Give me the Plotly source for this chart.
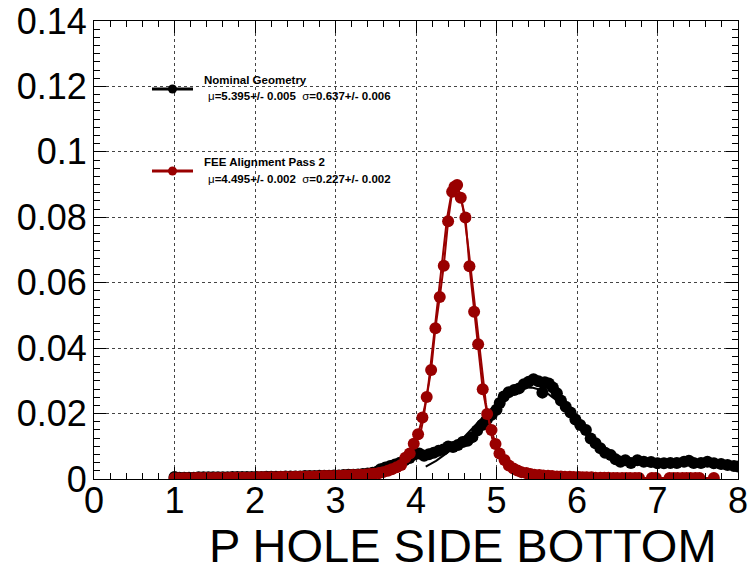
import numpy as np
import plotly.graph_objects as go

# ---- Nominal Geometry: residual distribution ----
nom_x = [1.00, 1.06, 1.12, 1.18, 1.24, 1.30, 1.36, 1.42, 1.48, 1.54, 1.60, 1.66, 1.72, 1.78,
         1.84, 1.90, 1.96, 2.02, 2.08, 2.14, 2.20, 2.26, 2.32, 2.38, 2.44, 2.50, 2.56, 2.62,
         2.68, 2.74, 2.80, 2.86, 2.92, 2.98, 3.04, 3.10, 3.16, 3.22, 3.28, 3.34, 3.40, 3.46,
         3.52, 3.56, 3.62, 3.68, 3.74, 3.80, 3.86, 3.92, 3.98, 4.04, 4.10, 4.16, 4.22, 4.28,
         4.34, 4.40, 4.46, 4.52, 4.58, 4.64, 4.70, 4.76, 4.82, 4.88, 4.94, 5.00, 5.04, 5.09,
         5.15, 5.22, 5.28, 5.34, 5.40, 5.46, 5.52, 5.57, 5.60, 5.65, 5.70, 5.75, 5.80, 5.86,
         5.92, 5.98, 6.04, 6.11, 6.17, 6.23, 6.29, 6.35, 6.42, 6.48, 6.54, 6.60, 6.67, 6.75,
         6.83, 6.92, 7.00, 7.08, 7.16, 7.24, 7.33, 7.39, 7.45, 7.54, 7.62, 7.70, 7.79, 7.87,
         7.95, 8.00]
nom_y = [0.0006, 0.0004, 0.0004, 0.0004, 0.0004, 0.0005, 0.0005, 0.0005, 0.0005, 0.0005,
         0.0005, 0.0005, 0.0006, 0.0006, 0.0006, 0.0006, 0.0006, 0.0006, 0.0006, 0.0007,
         0.0007, 0.0007, 0.0007, 0.0008, 0.0008, 0.0008, 0.0008, 0.0009, 0.0009, 0.0009,
         0.0010, 0.0010, 0.0010, 0.0011, 0.0011, 0.0012, 0.0013, 0.0013, 0.0014, 0.0015,
         0.0017, 0.0019, 0.0023, 0.0030, 0.0035, 0.0040, 0.0044, 0.0050, 0.0057, 0.0064,
         0.0075, 0.0078, 0.0071, 0.0076, 0.0080, 0.0086, 0.0090, 0.0099, 0.0098, 0.0104,
         0.0113, 0.0117, 0.0128, 0.0148, 0.0165, 0.0182, 0.0196, 0.0212, 0.0232, 0.0252,
         0.0265, 0.0272, 0.0277, 0.0290, 0.0297, 0.0305, 0.0299, 0.0264, 0.0296, 0.0292,
         0.0280, 0.0262, 0.0240, 0.0221, 0.0203, 0.0182, 0.0165, 0.0150, 0.0124, 0.0109,
         0.0094, 0.0080, 0.0073, 0.0060, 0.0053, 0.0057, 0.0049, 0.0057, 0.0053, 0.0052,
         0.0048, 0.0048, 0.0049, 0.0049, 0.0053, 0.0056, 0.0049, 0.0049, 0.0053, 0.0048,
         0.0046, 0.0043, 0.0040, 0.0038]

# ---- FEE Alignment Pass 2: residual distribution ----
fee_x = [1.00, 1.05, 1.11, 1.16, 1.22, 1.27, 1.32, 1.38, 1.43, 1.49, 1.54, 1.59, 1.65, 1.70,
         1.76, 1.81, 1.86, 1.92, 1.97, 2.03, 2.08, 2.13, 2.19, 2.24, 2.30, 2.35, 2.40, 2.46,
         2.51, 2.57, 2.62, 2.67, 2.73, 2.78, 2.84, 2.89, 2.94, 3.00, 3.05, 3.11, 3.16, 3.21,
         3.27, 3.32, 3.38, 3.43, 3.48, 3.54, 3.59, 3.65, 3.70, 3.76,
         3.815, 3.868, 3.922, 3.972, 4.026, 4.080, 4.133, 4.188, 4.241, 4.295, 4.345, 4.399,
         4.449, 4.478, 4.511, 4.556, 4.614, 4.664, 4.722, 4.772, 4.829, 4.884, 4.938, 4.988,
         5.037, 5.100, 5.153,
         5.21, 5.26, 5.31, 5.37, 5.42, 5.47, 5.53, 5.58, 5.64, 5.69, 5.75, 5.80, 5.85, 5.91,
         5.96, 6.02, 6.07, 6.12, 6.18, 6.23, 6.29, 6.34, 6.39, 6.45, 6.50, 6.56, 6.61, 6.66,
         6.72, 6.77, 6.93, 6.98, 7.15, 7.20, 7.25, 7.31, 7.36, 7.41, 7.47, 7.52, 7.70]
fee_y = [0.0002, 0.0002, 0.0002, 0.0002, 0.0002, 0.0003, 0.0003, 0.0003, 0.0003, 0.0003,
         0.0003, 0.0003, 0.0003, 0.0004, 0.0004, 0.0004, 0.0004, 0.0004, 0.0004, 0.0005,
         0.0005, 0.0005, 0.0005, 0.0005, 0.0006, 0.0006, 0.0006, 0.0006, 0.0007, 0.0007,
         0.0007, 0.0008, 0.0008, 0.0008, 0.0009, 0.0009, 0.0009, 0.0010, 0.0010, 0.0011,
         0.0011, 0.0012, 0.0012, 0.0013, 0.0014, 0.0015, 0.0016, 0.0018, 0.0021, 0.0025,
         0.0030, 0.0036,
         0.0043, 0.0065, 0.0078, 0.0108, 0.0137, 0.0188, 0.0251, 0.0333, 0.0461, 0.0556,
         0.0652, 0.0788, 0.0878, 0.0893, 0.0899, 0.0860, 0.0799, 0.0650, 0.0511, 0.0412,
         0.0274, 0.0199, 0.0150, 0.0107, 0.0078, 0.0058, 0.0041,
         0.0032, 0.0026, 0.0021, 0.0018, 0.0015, 0.0013, 0.0012, 0.0011, 0.0010, 0.0009,
         0.0008, 0.0008, 0.0007, 0.0007, 0.0006, 0.0006, 0.0005, 0.0005, 0.0005, 0.0004,
         0.0004, 0.0004, 0.0004, 0.0003, 0.0003, 0.0003, 0.0003, 0.0003, 0.0003, 0.0003,
         0.0003, 0.0003, 0.0003, 0.0003, 0.0003, 0.0003, 0.0003, 0.0003, 0.0003, 0.0003,
         0.0003]

# Gaussian fit results (mean, sigma, errors, peak height)
nom_fit = dict(mu=5.395, mu_err=0.005, sigma=0.637, sigma_err=0.006, amp=0.0280)
fee_fit = dict(mu=4.495, mu_err=0.002, sigma=0.227, sigma_err=0.002, amp=0.0895)

series_names = ["Nominal Geometry", "FEE Alignment Pass 2"]
series_colors = ["#000000", "#990000"]

x_title = "P HOLE SIDE BOTTOM"


def gauss_curve(fit, n=200):
    """Fitted Gaussian drawn over mean +/- 2 sigma."""
    xs = np.linspace(fit["mu"] - 2 * fit["sigma"], fit["mu"] + 2 * fit["sigma"], n)
    ys = fit["amp"] * np.exp(-0.5 * ((xs - fit["mu"]) / fit["sigma"]) ** 2)
    return xs, ys


fig = go.Figure()

for (xs, ys, fit, name, col) in [
    (nom_x, nom_y, nom_fit, series_names[0], series_colors[0]),
    (fee_x, fee_y, fee_fit, series_names[1], series_colors[1]),
]:
    fig.add_trace(go.Scatter(
        x=xs, y=ys, mode="lines+markers", name=name,
        line=dict(color=col, width=2),
        marker=dict(color=col, size=12, symbol="circle", line=dict(width=0)),
        showlegend=False, cliponaxis=True,
    ))
    fx, fy = gauss_curve(fit)
    fig.add_trace(go.Scatter(
        x=fx, y=fy, mode="lines", line=dict(color=col, width=2),
        showlegend=False, hoverinfo="skip",
    ))

# ---- frame geometry (pixels) ----
W, H = 749, 571
L, R, T, B = 94, 738, 21, 479
PW, PH = R - L, B - T


def px(xp):
    return (xp - L) / PW


def py(yp):
    return (B - yp) / PH


shapes = []
annotations = []

# hand-placed legend entries
legend_rows = [
    (series_names[0], series_colors[0], nom_fit, 89, 80, 96.5),
    (series_names[1], series_colors[1], fee_fit, 171, 162, 178.5),
]
for name, col, fit, ly, t1, t2 in legend_rows:
    shapes.append(dict(type="line", xref="paper", yref="paper",
                       x0=px(152), x1=px(193), y0=py(ly), y1=py(ly),
                       line=dict(color=col, width=3)))
    r = 4.5
    shapes.append(dict(type="circle", xref="paper", yref="paper",
                       x0=px(172.5 - r), x1=px(172.5 + r), y0=py(ly + r), y1=py(ly - r),
                       fillcolor=col, line=dict(color=col, width=0)))
    annotations.append(dict(
        text="<b>%s</b>" % name, xref="paper", yref="paper",
        x=px(202), y=py(t1), xanchor="left", yanchor="middle", showarrow=False,
        font=dict(family="Liberation Sans, Arial, sans-serif", size=11.5, color="black")))
    stats = ("μ<b>=%.3f+/- %.3f</b>  σ<b>=%.3f+/- %.3f</b>"
             % (fit["mu"], fit["mu_err"], fit["sigma"], fit["sigma_err"]))
    annotations.append(dict(
        text=stats, xref="paper", yref="paper",
        x=px(206), y=py(t2), xanchor="left", yanchor="middle", showarrow=False,
        font=dict(family="Liberation Sans, Arial, sans-serif", size=11.5, color="black")))

# x-axis title, right-aligned to the end of the axis
annotations.append(dict(
    text=x_title, xref="paper", yref="paper", x=px(719), y=py(545),
    xanchor="right", yanchor="middle", showarrow=False,
    font=dict(family="Liberation Sans, Arial, sans-serif", size=47, color="black")))

tick_font = dict(family="Liberation Sans, Arial, sans-serif", size=36, color="black")
common_axis = dict(
    showline=True, linecolor="black", linewidth=1, mirror="allticks",
    ticks="inside", ticklen=12, tickcolor="black", tickwidth=1,
    showgrid=True, gridcolor="#444444", griddash="dot", gridwidth=1,
    zeroline=False, tickfont=tick_font, automargin=False,
)

fig.update_layout(
    width=W, height=H,
    margin=dict(l=L, r=W - R, t=T, b=H - B, autoexpand=False),
    paper_bgcolor="white", plot_bgcolor="white",
    shapes=shapes, annotations=annotations,
    xaxis=dict(range=[0, 8], dtick=1, tick0=0, ticklabelstandoff=-10,
               minor=dict(ticks="inside", ticklen=6, dtick=0.2, tickcolor="black",
                          showgrid=False),
               **common_axis),
    yaxis=dict(range=[0, 0.14], dtick=0.02, tick0=0, ticklabelstandoff=-1,
               minor=dict(ticks="inside", ticklen=6, dtick=0.0025, tickcolor="black",
                          showgrid=False),
               **common_axis),
    showlegend=False,
)

fig.write_html("out.html")
